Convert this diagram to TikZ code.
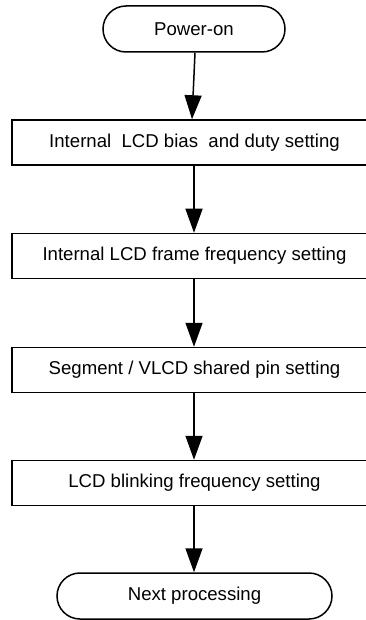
\documentclass[tikz,border=0pt]{standalone}
\usepackage{fontspec}
\setmainfont{Liberation Sans}
\usetikzlibrary{arrows.meta,shapes.misc}
\begin{document}
\begin{tikzpicture}[x=1pt,y=-1pt,
  font=\fontsize{18.6pt}{21pt}\selectfont,
  stepbox/.style={draw, line width=1.5pt, rectangle, minimum width=365pt, minimum height=45pt, inner sep=0pt},
  term/.style={draw, line width=1.5pt, rounded rectangle, minimum height=46pt, inner sep=0pt},
  flow/.style={line width=1.5pt, -{Triangle[length=24pt,width=17pt]}}]
\useasboundingbox (0,0) rectangle (366,620);
\clip (0,0) rectangle (366,620);
\node[term, minimum width=182pt] (pw) at (194,29) {Power-on};
\node[stepbox] (b1) at (194.5,142.5) {Internal\ \ LCD bias\ \ and duty setting};
\node[stepbox] (b2) at (194.5,256) {Internal LCD frame frequency setting};
\node[stepbox] (b3) at (194.5,370) {Segment / VLCD shared pin setting};
\node[stepbox] (b4) at (194.5,483) {LCD blinking frequency setting};
\node[term, minimum width=275pt] (nx) at (194.5,596) {Next processing};
\draw[flow] ([xshift=1pt]pw.south) -- ([xshift=-2.5pt]b1.north);
\draw[flow] ([xshift=-0.5pt]b1.south) -- ([xshift=-0.5pt]b2.north);
\draw[flow] ([xshift=-0.5pt]b2.south) -- ([xshift=-0.5pt]b3.north);
\draw[flow] ([xshift=-0.5pt]b3.south) -- ([xshift=-0.5pt]b4.north);
\draw[flow] ([xshift=-0.5pt]b4.south) -- ([xshift=-0.5pt]nx.north);
\end{tikzpicture}
\end{document}
